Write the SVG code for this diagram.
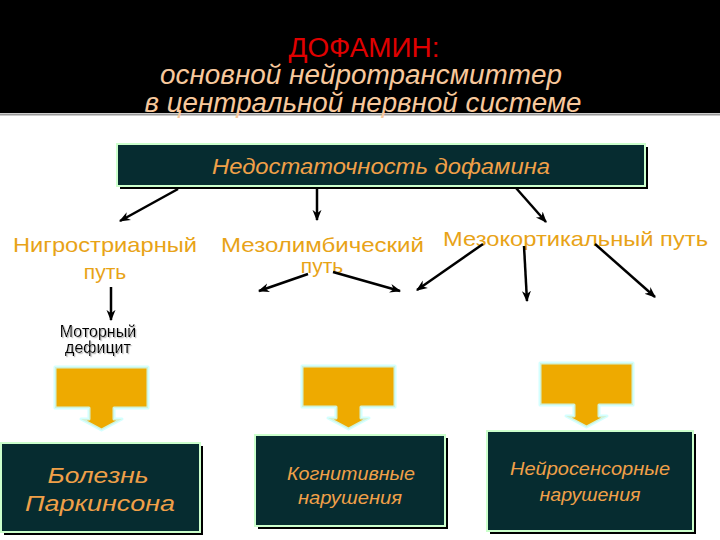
<svg xmlns="http://www.w3.org/2000/svg" width="720" height="540" viewBox="0 0 720 540">
<defs>
<marker id="ah" viewBox="0 0 10 10" refX="9" refY="5" markerWidth="4.5" markerHeight="4.5" orient="auto" markerUnits="strokeWidth">
<path d="M0,1 L10,5 L0,9 L3,5 Z" fill="#000"/>
</marker>
<filter id="sh" x="-10%" y="-20%" width="130%" height="150%">
<feDropShadow dx="1.2" dy="1.2" stdDeviation="0.3" flood-color="#b8b8b8"/>
</filter>
</defs>
<style>
.conn{stroke:#000;stroke-width:2.5;fill:none;marker-end:url(#ah)}
.lbl{font-family:"Liberation Sans",Arial,sans-serif;font-size:21px;fill:#E8A317}
.box{fill:#062C30;stroke:#CCFFCC;stroke-width:2}
.shadow{fill:#000}
.btxt{font-family:"Liberation Sans",Arial,sans-serif;font-style:italic;fill:#F0A048;text-anchor:middle}
.call{fill:#EEAA00;stroke:#CCFFFF;stroke-width:3;stroke-linejoin:round;stroke-opacity:0.85}
.ttl{font-family:"Liberation Sans",Arial,sans-serif;font-size:27px;text-anchor:middle}
.mot{font-family:"Liberation Sans",Arial,sans-serif;font-size:16px;text-anchor:middle;fill:#000;filter:url(#sh)}
</style>
<rect x="0" y="0" width="720" height="540" fill="#fff"/>
<g id="title">
<rect x="0" y="0" width="720" height="113" fill="#000"/>
<line x1="0" y1="114.5" x2="720" y2="114.5" stroke="#9a9a9a" stroke-width="2"/>
<text class="ttl" x="364" y="57" fill="#E00000" textLength="151" lengthAdjust="spacingAndGlyphs">ДОФАМИН:</text>
<text class="ttl" x="361" y="84" fill="#F8C89C" font-style="italic" textLength="402" lengthAdjust="spacingAndGlyphs">основной нейротрансмиттер</text>
<text class="ttl" x="363" y="112" fill="#F8C89C" font-style="italic" textLength="437" lengthAdjust="spacingAndGlyphs">в центральной нервной системе</text>
</g>
<g id="deficit">
<rect class="shadow" x="120" y="147" width="528" height="42"/>
<rect class="box" x="117" y="144" width="528" height="42"/>
<text class="btxt" x="381" y="174" font-size="22" textLength="338" lengthAdjust="spacingAndGlyphs">Недостаточность дофамина</text>
</g>
<g id="nigro">
<text class="lbl" x="13" y="252" textLength="184" lengthAdjust="spacingAndGlyphs">Нигростриарный</text>
<text class="lbl" x="105" y="279" text-anchor="middle">путь</text>
</g>
<g id="mezolimb">
<text class="lbl" x="221" y="252" textLength="203" lengthAdjust="spacingAndGlyphs">Мезолимбический</text>
<text class="lbl" x="322" y="273" text-anchor="middle">путь</text>
</g>
<g id="mezocort">
<text class="lbl" x="443" y="246" textLength="265" lengthAdjust="spacingAndGlyphs">Мезокортикальный путь</text>
</g>
<g id="motor">
<text class="mot" x="98" y="337"><tspan x="98" y="337">Моторный</tspan><tspan x="98" y="353">дефицит</tspan></text>
</g>
<g id="callout1">
<path class="call" d="M55,367 H148 V408 H114 V419 H122 L101.5,430 L81,419 H89 V408 H55 Z"/>
</g>
<g id="callout2">
<path class="call" d="M302,366 H395 V407 H361 V418 H369 L348.5,429 L328,418 H336 V407 H302 Z"/>
</g>
<g id="callout3">
<path class="call" d="M540,363 H633 V405 H599 V416 H607 L586.5,427 L566,416 H574 V405 H540 Z"/>
</g>
<g id="parkinson">
<rect class="shadow" x="4" y="446" width="199" height="89"/>
<rect class="box" x="1" y="443" width="199" height="89"/>
<text class="btxt" x="98" y="483" font-size="22" textLength="101" lengthAdjust="spacingAndGlyphs">Болезнь</text>
<text class="btxt" x="100" y="511" font-size="22" textLength="150" lengthAdjust="spacingAndGlyphs">Паркинсона</text>
</g>
<g id="cognitive">
<rect class="shadow" x="258" y="438" width="190" height="91"/>
<rect class="box" x="255" y="435" width="190" height="91"/>
<text class="btxt" x="351" y="480" font-size="19" textLength="128" lengthAdjust="spacingAndGlyphs">Когнитивные</text>
<text class="btxt" x="350" y="504" font-size="19" textLength="104" lengthAdjust="spacingAndGlyphs">нарушения</text>
</g>
<g id="neurosensory">
<rect class="shadow" x="490" y="434" width="206" height="100"/>
<rect class="box" x="487" y="431" width="206" height="100"/>
<text class="btxt" x="590" y="475" font-size="19" textLength="160" lengthAdjust="spacingAndGlyphs">Нейросенсорные</text>
<text class="btxt" x="590" y="501" font-size="19" textLength="101" lengthAdjust="spacingAndGlyphs">нарушения</text>
</g>
<g id="connectors">
<line class="conn" x1="178" y1="189" x2="120" y2="221"/>
<line class="conn" x1="317" y1="187" x2="317" y2="220"/>
<line class="conn" x1="516" y1="188" x2="546" y2="222"/>
<line class="conn" x1="111" y1="287" x2="111" y2="320"/>
<line class="conn" x1="308" y1="274" x2="259" y2="291"/>
<line class="conn" x1="333" y1="272" x2="400" y2="291"/>
<line class="conn" x1="483" y1="244" x2="417" y2="290"/>
<line class="conn" x1="524" y1="246" x2="527" y2="301"/>
<line class="conn" x1="595" y1="244" x2="655" y2="297"/>
</g>
</svg>
